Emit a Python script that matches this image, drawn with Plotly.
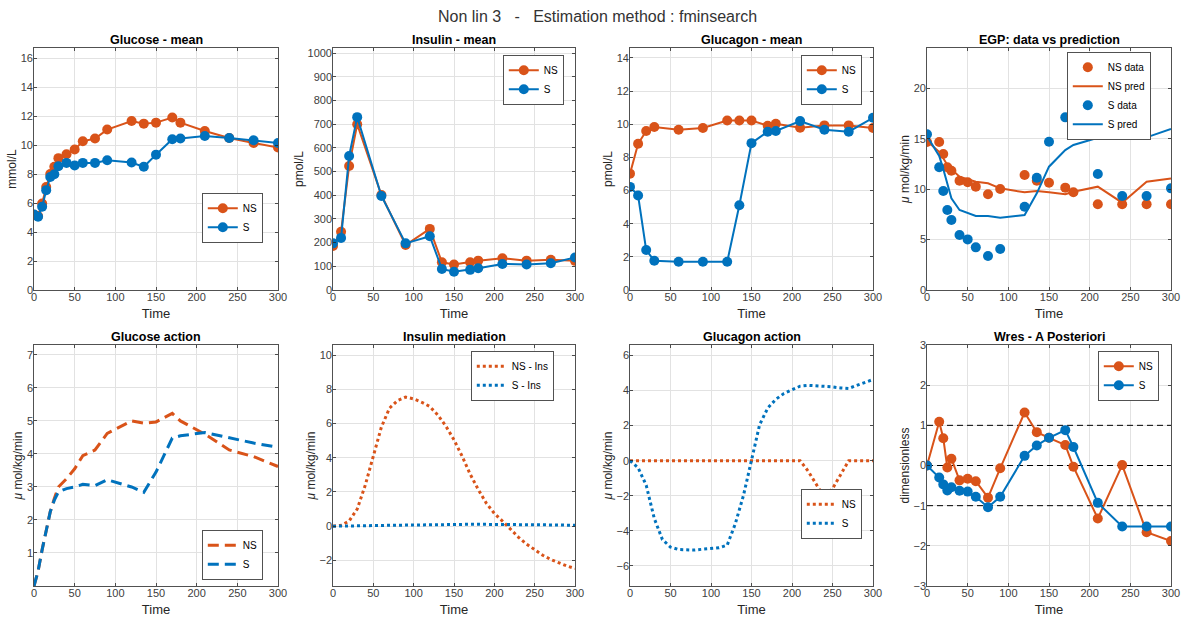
import plotly.graph_objects as go

NS_COLOR = "#D95319"
S_COLOR = "#0072BD"
AX_COLOR = "#262626"
GRID_COLOR = "#e2e2e2"
FONT = "Liberation Sans, Arial, Helvetica, sans-serif"

W, H = 1182, 618

# ---------------- data ----------------
t_glu = [0, 5, 10, 15, 20, 25, 30, 40, 50, 60, 75, 90, 120, 135, 150, 170, 180, 210, 240, 270, 300]
glu_ns = [5.2, 5.1, 5.97, 7.1, 8.0, 8.5, 9.1, 9.37, 9.7, 10.26, 10.45, 11.07, 11.66, 11.48, 11.55, 11.9, 11.55, 10.97, 10.49, 10.15, 9.83]
glu_s = [5.21, 5.05, 5.74, 6.89, 7.8, 7.99, 8.54, 8.77, 8.6, 8.77, 8.77, 8.95, 8.8, 8.5, 9.34, 10.4, 10.45, 10.63, 10.49, 10.33, 10.15]

t_hor = [0, 10, 20, 30, 60, 90, 120, 135, 150, 170, 180, 210, 240, 270, 300]
ins_ns = [186, 246, 524, 700, 401, 190, 258, 117, 108, 117, 124, 134, 124, 128, 123]
ins_s = [197, 220, 566, 730, 397, 197, 227, 89, 77, 85, 92, 110, 108, 113, 137]
gcg_ns = [7.02, 8.82, 9.59, 9.83, 9.67, 9.77, 10.23, 10.23, 10.23, 9.91, 10.03, 9.79, 9.93, 9.93, 9.77]
gcg_s = [6.22, 5.70, 2.41, 1.76, 1.70, 1.70, 1.70, 5.11, 8.86, 9.55, 9.59, 10.19, 9.67, 9.55, 10.39]

t_egp = [0, 15, 20, 25, 30, 40, 50, 60, 75, 90, 120, 135, 150, 170, 180, 210, 240, 270, 300]
egp_ns_data = [14.68, 14.68, 13.49, 12.17, 11.83, 10.84, 10.68, 10.25, 9.49, 10.02, 11.40, 10.84, 10.64, 10.15, 9.69, 8.50, 8.50, 8.50, 8.50]
egp_ns_pred = [14.78, 13.7, 13.06, 12.4, 11.97, 11.24, 10.98, 10.74, 10.58, 10.08, 9.69, 9.82, 9.69, 9.49, 9.75, 10.25, 8.66, 10.74, 11.07]
egp_s_data = [15.44, 12.17, 9.82, 7.93, 6.94, 5.45, 5.02, 4.23, 3.37, 4.07, 8.26, 11.14, 14.71, 17.12, 16.1, 11.50, 9.32, 9.32, 10.08]
egp_s_pred = [15.27, 13.3, 12.0, 10.5, 9.09, 7.93, 7.6, 7.34, 7.34, 7.17, 7.44, 9.59, 12.23, 13.88, 14.38, 15.1, 15.2, 15.14, 15.97]

ga_ns = [0, 0.45, 1.1, 1.7, 2.25, 2.65, 3.0, 3.25, 3.55, 3.95, 4.12, 4.62, 5.0, 4.93, 4.97, 5.23, 5.0, 4.6, 4.12, 3.92, 3.62]
ga_s = [0, 0.45, 1.1, 1.7, 2.25, 2.6, 2.85, 2.95, 3.0, 3.08, 3.04, 3.22, 3.0, 2.84, 3.45, 4.48, 4.55, 4.65, 4.48, 4.33, 4.2]

t_fine = [0, 10, 20, 30, 40, 50, 60, 70, 80, 90, 100, 110, 120, 130, 140, 150,
          160, 170, 180, 190, 200, 210, 220, 230, 240, 250, 260, 270, 280, 290, 300]
im_ns = [0, 0.05, 0.3, 1.0, 2.4, 4.1, 5.8, 6.9, 7.35, 7.55, 7.45, 7.25, 7.0, 6.5, 5.85, 5.05,
         4.1, 3.05, 2.15, 1.35, 0.75, 0.3, -0.2, -0.65, -1.05, -1.4, -1.7, -1.95, -2.15, -2.33, -2.48]
im_s = [0, 0.0, 0.0, 0.01, 0.02, 0.03, 0.04, 0.05, 0.06, 0.07, 0.08, 0.09, 0.1, 0.1, 0.11, 0.11,
        0.11, 0.11, 0.11, 0.11, 0.11, 0.1, 0.1, 0.09, 0.09, 0.08, 0.08, 0.07, 0.07, 0.06, 0.06]
gca_ns = [0, 0, 0, 0, 0, 0, 0, 0, 0, 0, 0, 0, 0, 0, 0, 0,
          0, 0, 0, 0, 0, 0, -0.6, -1.35, -2.1, -1.6, -0.8, 0, 0, 0, 0]
gca_s = [0, -0.4, -1.4, -3.3, -4.5, -4.93, -5.07, -5.1, -5.1, -5.05, -5.0, -4.97, -4.82, -3.6, -2.0, 0.1,
         2.05, 3.0, 3.5, 3.83, 4.02, 4.25, 4.3, 4.28, 4.26, 4.21, 4.15, 4.12, 4.3, 4.47, 4.63]

wres_ns = [0, 1.09, 0.68, -0.05, 0.17, -0.37, -0.33, -0.39, -0.8, -0.07, 1.32, 0.83, 0.69, 0.51, -0.03, -1.32, 0.01, -1.66, -1.88]
wres_s = [0, -0.30, -0.47, -0.62, -0.54, -0.63, -0.65, -0.78, -1.04, -0.78, 0.24, 0.5, 0.69, 0.88, 0.46, -0.93, -1.52, -1.52, -1.52]
wres_ref = [-1, 0, 1]
x_lim = [0, 300]

titles = ["Glucose - mean", "Insulin - mean", "Glucagon - mean", "EGP: data vs prediction",
          "Glucose action", "Insulin mediation", "Glucagon action", "Wres - A Posteriori"]
ylabels = ["mmol/L", "pmol/L", "pmol/L", "<i>μ</i> mol/kg/min",
           "<i>μ</i> mol/kg/min", "<i>μ</i> mol/kg/min", "<i>μ</i> mol/kg/min", "dimensionless"]
yranges = [[0, 16.7], [0, 1022], [0, 14.6], [0, 24], [0, 7.3], [-3.5, 10.6], [-7.15, 6.6], [-3, 3]]
ydticks = [2, 100, 2, 5, 1, 2, 2, 1]

# ---------------- layout geometry (window pixels) ----------------
cols = [(34, 278), (333, 575), (630, 873), (927, 1171)]
rows = [(48, 290), (345, 586)]

def fx(px):
    return px / W

def fy(py):
    return 1 - py / H

fig = go.Figure()

def ax(i):
    return ("x" if i == 1 else f"x{i}"), ("y" if i == 1 else f"y{i}")

def line_trace(i, x, y, name, color, legend, mode="lines+markers", dash="solid", width=2, showlegend=True):
    xa, ya = ax(i)
    fig.add_trace(go.Scatter(
        x=x, y=y, name=name, mode=mode, xaxis=xa, yaxis=ya,
        line=dict(color=color, width=width, dash=dash),
        marker=dict(color=color, size=10),
        legend=legend, showlegend=showlegend, hoverinfo="skip"))

# 1 glucose mean
line_trace(1, t_glu, glu_ns, "NS", NS_COLOR, "legend")
line_trace(1, t_glu, glu_s, "S", S_COLOR, "legend")
# 2 insulin mean
line_trace(2, t_hor, ins_ns, "NS", NS_COLOR, "legend2")
line_trace(2, t_hor, ins_s, "S", S_COLOR, "legend2")
# 3 glucagon mean
line_trace(3, t_hor, gcg_ns, "NS", NS_COLOR, "legend3")
line_trace(3, t_hor, gcg_s, "S", S_COLOR, "legend3")
# 4 EGP
line_trace(4, t_egp, egp_ns_data, "NS data", NS_COLOR, "legend4", mode="markers")
line_trace(4, t_egp, egp_ns_pred, "NS pred", NS_COLOR, "legend4", mode="lines")
line_trace(4, t_egp, egp_s_data, "S data", S_COLOR, "legend4", mode="markers")
line_trace(4, t_egp, egp_s_pred, "S pred", S_COLOR, "legend4", mode="lines")
# 5 glucose action
line_trace(5, t_glu, ga_ns, "NS", NS_COLOR, "legend5", mode="lines", dash="11px,6px", width=3)
line_trace(5, t_glu, ga_s, "S", S_COLOR, "legend5", mode="lines", dash="11px,6px", width=3)
# 6 insulin mediation
line_trace(6, t_fine, im_ns, "NS - Ins", NS_COLOR, "legend6", mode="lines", dash="3px,3px", width=3)
line_trace(6, t_fine, im_s, "S - Ins", S_COLOR, "legend6", mode="lines", dash="3px,3px", width=3)
# 7 glucagon action
line_trace(7, t_fine, gca_ns, "NS", NS_COLOR, "legend7", mode="lines", dash="3px,3px", width=3)
line_trace(7, t_fine, gca_s, "S", S_COLOR, "legend7", mode="lines", dash="3px,3px", width=3)
# 8 wres
for r in wres_ref:
    line_trace(8, x_lim, [r, r], "ref", "#000000", "legend8", mode="lines", dash="6px,4px", width=1, showlegend=False)
line_trace(8, t_egp, wres_ns, "NS", NS_COLOR, "legend8")
line_trace(8, t_egp, wres_s, "S", S_COLOR, "legend8")

layout = dict(
    width=W, height=H, margin=dict(l=0, r=0, t=0, b=0),
    paper_bgcolor="white", plot_bgcolor="white",
    font=dict(family=FONT, color=AX_COLOR, size=11),
    annotations=[],
)

for i in range(8):
    r, c = divmod(i, 4)
    x0, x1 = cols[c]
    y0, y1 = rows[r]
    n = i + 1
    xk = "xaxis" if n == 1 else f"xaxis{n}"
    yk = "yaxis" if n == 1 else f"yaxis{n}"
    xa, ya = ax(n)
    common = dict(showline=True, linecolor=AX_COLOR, linewidth=0.8, mirror="ticks",
                  ticks="inside", ticklen=3, tickcolor=AX_COLOR, tickwidth=0.8,
                  showgrid=True, gridcolor=GRID_COLOR, gridwidth=1, zeroline=False,
                  ticklabeloverflow="allow",
                  tickfont=dict(size=11, color="#404040"), automargin=False, fixedrange=True)
    layout[xk] = dict(domain=[fx(x0), fx(x1)], anchor=ya, range=x_lim, dtick=50, tick0=0,
                      ticklabelstandoff=-3,
                      title=dict(text="Time", font=dict(size=13, color=AX_COLOR), standoff=6), **common)
    yd = dict(domain=[fy(y1), fy(y0)], anchor=xa, range=yranges[i], dtick=ydticks[i], tick0=0,
              ticklabelstandoff=-2,
              title=dict(text=ylabels[i], font=dict(size=12, color=AX_COLOR), standoff=1), **common)
    if i == 4:
        yd.pop("dtick"); yd.pop("tick0")
        yd["tickvals"] = [1, 2, 3, 4, 5, 6, 7]
    layout[yk] = yd
    layout["annotations"].append(dict(
        text=f"<b>{titles[i]}</b>", x=fx((x0 + x1) / 2), y=fy(y0 - 8),
        xref="paper", yref="paper", xanchor="center", yanchor="middle", showarrow=False,
        font=dict(size=12.5, color="#000000")))

layout["annotations"].append(dict(
    text="Non lin 3\u00a0\u00a0\u00a0-\u00a0\u00a0\u00a0Estimation method : fminsearch",
    x=fx(597), y=fy(17), xref="paper", yref="paper", xanchor="center", yanchor="middle",
    showarrow=False, font=dict(size=16, color="#333333")))

leg_common = dict(bgcolor="white", bordercolor=AX_COLOR, borderwidth=0.8,
                  font=dict(size=10, color="#000000"), itemwidth=30, tracegroupgap=0,
                  itemclick=False, itemdoubleclick=False)
leg_pos = {
    "legend": (263, 243, "right", "bottom"),
    "legend2": (564, 55, "right", "top"),
    "legend3": (862, 55, "right", "top"),
    "legend4": (1151, 52, "right", "top"),
    "legend5": (263, 580, "right", "bottom"),
    "legend6": (554, 351, "right", "top"),
    "legend7": (862, 539, "right", "bottom"),
    "legend8": (1159, 351, "right", "top"),
}
for k, (px, py, xa_, ya_) in leg_pos.items():
    layout[k] = dict(x=fx(px), y=fy(py), xanchor=xa_, yanchor=ya_, xref="paper", yref="paper", **leg_common)

fig.update_layout(**layout)
fig.write_html(
    "out.html",
    config={"displayModeBar": False, "staticPlot": True},
    post_script="document.body.style.margin='0';document.body.style.overflow='hidden';",
)
